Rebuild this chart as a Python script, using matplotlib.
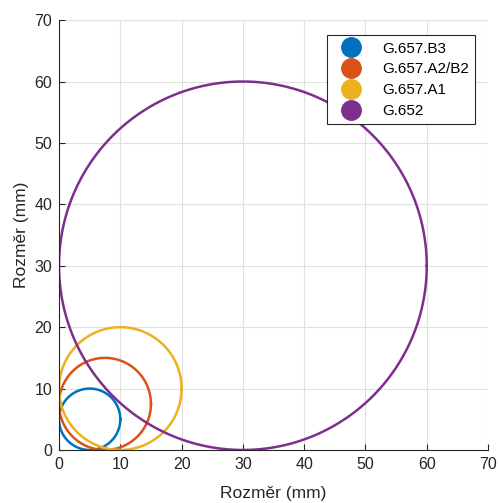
import numpy as np
import matplotlib
matplotlib.use('Agg')
import matplotlib.pyplot as plt
from matplotlib.lines import Line2D

# Data
labels = ['G.657.B3', 'G.657.A2/B2', 'G.657.A1', 'G.652']
centers = [5, 7.5, 10, 30]
radii = [5, 7.5, 10, 30]
colors = ['#0072BD', '#D95319', '#EDB120', '#7E2F8E']
ticks = np.arange(0, 71, 10)

plt.rcParams['font.family'] = ['Liberation Sans', 'DejaVu Sans']
plt.rcParams['font.size'] = 11

fig = plt.figure(figsize=(4.98, 5.03), dpi=100)
ax = fig.add_axes([0.1185, 0.1054, 0.8615, 0.8546])

t = np.linspace(0, 2 * np.pi, 400)
for c, r, col in zip(centers, radii, colors):
    ax.plot(c + r * np.cos(t), c + r * np.sin(t), color=col, lw=1.8)

ax.set_xlim(0, 70)
ax.set_ylim(0, 70)
ax.set_xticks(ticks)
ax.set_yticks(ticks)
ax.grid(True, color='#e0e0e0', lw=0.8)
ax.set_axisbelow(True)
for s in ['top', 'right']:
    ax.spines[s].set_visible(False)
for s in ['left', 'bottom']:
    ax.spines[s].set_color('#262626')
ax.tick_params(colors='#262626', labelsize=11.5, direction='in', length=4, pad=5)
ax.set_xlabel('Rozměr (mm)', color='#262626', fontsize=12.5, labelpad=10)
ax.set_ylabel('Rozměr (mm)', color='#262626', fontsize=12.5, labelpad=4)

handles = [Line2D([], [], ls='none', marker='o', ms=14, color=col) for col in colors]
leg = ax.legend(handles, labels, loc='upper right', bbox_to_anchor=(0.98, 0.975),
                fontsize=11, fancybox=False, framealpha=1, edgecolor='#262626',
                handlelength=2.4, handletextpad=0.8, borderpad=0.4, labelspacing=0.45,
                borderaxespad=0.3)
leg.get_frame().set_linewidth(0.8)

fig.savefig('out.png', dpi=100)
